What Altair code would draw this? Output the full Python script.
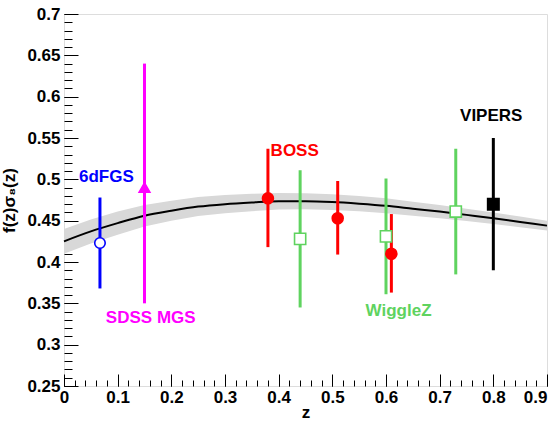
import altair as alt
import pandas as pd

# Growth-rate measurements f(z) * sigma8(z) with 1-sigma error bars
survey = ["6dFGS", "SDSS MGS", "BOSS", "BOSS", "BOSS",
          "WiggleZ", "WiggleZ", "WiggleZ", "VIPERS"]
z_obs = [0.067, 0.15, 0.38, 0.51, 0.61, 0.44, 0.60, 0.73, 0.80]
fs8_obs = [0.423, 0.490, 0.477, 0.453, 0.410, 0.428, 0.431, 0.461, 0.470]
fs8_lo = [0.368, 0.350, 0.418, 0.409, 0.363, 0.345, 0.361, 0.385, 0.390]
fs8_hi = [0.478, 0.640, 0.537, 0.498, 0.458, 0.511, 0.501, 0.537, 0.550]

# Model prediction and its uncertainty band
model_z = [0.00, 0.05, 0.10, 0.15, 0.20, 0.25, 0.30, 0.35, 0.40, 0.45,
           0.50, 0.55, 0.60, 0.65, 0.70, 0.75, 0.80, 0.85, 0.90]
model_fs8 = [0.425, 0.437, 0.447, 0.456, 0.462, 0.467, 0.470, 0.472, 0.4735, 0.4735,
             0.4725, 0.4705, 0.468, 0.4645, 0.461, 0.457, 0.453, 0.4485, 0.444]
model_err = [0.015, 0.0145, 0.014, 0.013, 0.012, 0.0115, 0.011, 0.0105, 0.010, 0.0098,
             0.0095, 0.0092, 0.009, 0.0085, 0.008, 0.0075, 0.007, 0.0065, 0.006]

# Survey styling
survey_names = ["6dFGS", "SDSS MGS", "BOSS", "WiggleZ", "VIPERS"]
survey_colors = ["#0000ff", "#ff00ff", "#ff0000", "#5fd35f", "#000000"]
survey_fills = ["#ffffff", "#ff00ff", "#ff0000", "#ffffff", "#000000"]
survey_shapes = ["circle", "triangle-up", "circle", "square", "square"]
survey_sizes = [110, 130, 100, 125, 125]

# Survey name annotations (anchor in data coordinates)
label_text = ["6dFGS", "SDSS MGS", "BOSS", "WiggleZ", "VIPERS"]
label_z = [0.028, 0.078, 0.385, 0.562, 0.738]
label_y = [0.497, 0.326, 0.528, 0.335, 0.571]

FONT = "Liberation Sans"

obs = pd.DataFrame({"survey": survey, "z": z_obs, "fs8": fs8_obs,
                    "lo": fs8_lo, "hi": fs8_hi})
model = pd.DataFrame({"z": model_z, "fs8": model_fs8, "err": model_err})
model["lo"] = model["fs8"] - model["err"]
model["hi"] = model["fs8"] + model["err"]
labels = pd.DataFrame({"text": label_text, "z": label_z, "y": label_y,
                       "survey": label_text})

xscale = alt.Scale(domain=[0, 0.9], nice=False, zero=False)
yscale = alt.Scale(domain=[0.25, 0.7], nice=False, zero=False)
color_scale = alt.Scale(domain=survey_names, range=survey_colors)
fill_scale = alt.Scale(domain=survey_names, range=survey_fills)
shape_scale = alt.Scale(domain=survey_names, range=survey_shapes)
size_scale = alt.Scale(domain=survey_names, range=survey_sizes)

major_x = [0, 0.1, 0.2, 0.3, 0.4, 0.5, 0.6, 0.7, 0.8, 0.9]
major_y = [0.25, 0.3, 0.35, 0.4, 0.45, 0.5, 0.55, 0.6, 0.65, 0.7]
minor_x = [round(i * 0.02, 2) for i in range(46)]
minor_y = [round(0.25 + i * 0.01, 2) for i in range(46)]

common_axis = dict(domain=False, grid=False, tickColor="#000000", tickWidth=1,
                   labelFont=FONT, labelFontSize=17, labelFontWeight="bold",
                   labelColor="#000000", titleFont=FONT, titleFontSize=17,
                   titleFontWeight="bold", titleColor="#000000",
                   labelOverlap=False)

# Inward-pointing major ticks: the axis line is pulled into the plot by the tick length
x_major = alt.Axis(orient="bottom", values=major_x, format=".1~f", offset=-12,
                   tickSize=12, labelPadding=3, labelFlush=False,
                   labelAlign=alt.ExprRef("datum.value >= 0.9 ? 'right' : 'center'"),
                   title="z", titlePadding=-1, **common_axis)
y_major = alt.Axis(orient="left", values=major_y, format=".2~f", offset=-14,
                   tickSize=14, labelPadding=4, title="f(z)σ₈(z)",
                   titlePadding=8, **common_axis)
x_minor = alt.Axis(orient="bottom", values=minor_x, offset=-6, tickSize=6,
                   labels=False, title=None, **common_axis)
y_minor = alt.Axis(orient="left", values=minor_y, offset=-8, tickSize=8,
                   labels=False, title=None, **common_axis)

band = alt.Chart(model).mark_area(color="#d8d8d8").encode(
    x=alt.X("z:Q", scale=xscale, axis=x_major),
    y=alt.Y("lo:Q", scale=yscale, axis=y_major),
    y2="hi:Q",
)

curve = alt.Chart(model).mark_line(color="#000000", strokeWidth=2,
                                   interpolate="monotone").encode(
    x=alt.X("z:Q", scale=xscale, axis=x_minor),
    y=alt.Y("fs8:Q", scale=yscale, axis=y_minor),
)

bars = alt.Chart(obs).mark_rule(strokeWidth=3).encode(
    x=alt.X("z:Q", scale=xscale, axis=None),
    y=alt.Y("lo:Q", scale=yscale, axis=None),
    y2="hi:Q",
    color=alt.Color("survey:N", scale=color_scale, legend=None),
)

points = alt.Chart(obs).mark_point(strokeWidth=1.6, opacity=1, fillOpacity=1).encode(
    x=alt.X("z:Q", scale=xscale, axis=None),
    y=alt.Y("fs8:Q", scale=yscale, axis=None),
    stroke=alt.Stroke("survey:N", scale=color_scale, legend=None),
    fill=alt.Fill("survey:N", scale=fill_scale, legend=None),
    shape=alt.Shape("survey:N", scale=shape_scale, legend=None),
    size=alt.Size("survey:N", scale=size_scale, legend=None),
)

names = alt.Chart(labels).mark_text(align="left", baseline="alphabetic",
                                    font=FONT, fontSize=17, fontWeight="bold").encode(
    x=alt.X("z:Q", scale=xscale, axis=None),
    y=alt.Y("y:Q", scale=yscale, axis=None),
    text="text:N",
    color=alt.Color("survey:N", scale=color_scale, legend=None),
)

chart = alt.layer(band, curve, bars, points, names).resolve_axis(
    x="independent", y="independent"
).properties(
    width=483, height=372,
    autosize=alt.AutoSizeParams(type="none"),
    padding={"left": 64, "top": 14, "right": 13, "bottom": 35},
).configure_view(
    stroke="#222222", strokeWidth=2
).configure(background="#ffffff")

chart.save("out.html", embed_options={"renderer": "svg", "actions": False})
